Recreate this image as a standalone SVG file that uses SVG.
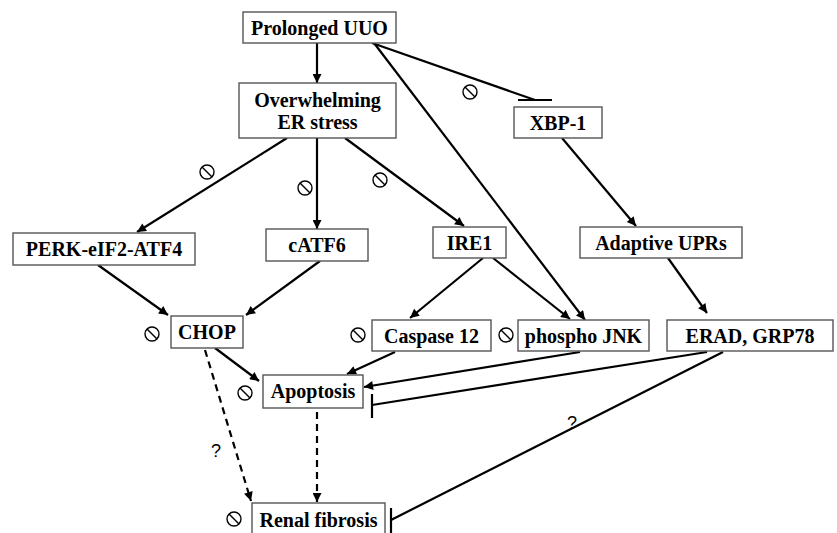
<svg xmlns="http://www.w3.org/2000/svg" width="837" height="533" viewBox="0 0 837 533">
<defs>
<marker id="ah" viewBox="0 0 10 10" refX="10" refY="5" markerWidth="11" markerHeight="9" markerUnits="userSpaceOnUse" orient="auto">
<path d="M0,0 L10,5 L0,10 z" fill="#000"/>
</marker>
<g id="no"><circle cx="0" cy="0" r="7" fill="none" stroke="#000" stroke-width="1.4"/><line x1="-5" y1="-5" x2="5" y2="5" stroke="#000" stroke-width="1.4"/></g>
</defs>
<style>
.box{fill:#fff;stroke:#555;stroke-width:1.4}
.t{font-family:"Liberation Serif","Times New Roman",serif;font-weight:bold;font-size:20px;fill:#000;text-anchor:middle}
.q{font-family:"Liberation Sans",Arial,sans-serif;font-size:18px;fill:#000;text-anchor:middle}
.c{stroke:#000;stroke-width:2.2;fill:none}
.a{marker-end:url(#ah)}
.d{stroke-dasharray:7,5}
</style>
<rect width="837" height="533" fill="#fff"/>
<g id="connectors">
<line class="c a" x1="317" y1="43" x2="317" y2="83"/>
<line class="c" x1="372" y1="43" x2="535" y2="100"/>
<line class="c" x1="518" y1="100" x2="552" y2="100" stroke-width="2.5"/>
<line class="c a" x1="374" y1="43" x2="585" y2="320"/>
<line class="c a" x1="287" y1="138" x2="137" y2="232"/>
<line class="c a" x1="317" y1="138" x2="317" y2="229"/>
<line class="c a" x1="345" y1="138" x2="464" y2="226"/>
<line class="c a" x1="562" y1="138" x2="636" y2="226"/>
<line class="c a" x1="668" y1="258" x2="707" y2="313"/>
<line class="c a" x1="98" y1="265" x2="168" y2="315"/>
<line class="c a" x1="320" y1="261" x2="246" y2="315"/>
<line class="c a" x1="483" y1="258" x2="410" y2="318"/>
<line class="c a" x1="493" y1="258" x2="570" y2="319"/>
<line class="c a" x1="215" y1="348" x2="259" y2="381"/>
<line class="c a" x1="395" y1="352" x2="347" y2="374"/>
<line class="c a" x1="580" y1="352" x2="364" y2="387"/>
<line class="c" x1="707" y1="352" x2="372" y2="405"/>
<line class="c" x1="372" y1="394" x2="372" y2="418"/>
<line class="c" x1="723" y1="352" x2="391" y2="520"/>
<line class="c" x1="391" y1="508" x2="391" y2="533"/>
<line class="c a d" x1="205" y1="350" x2="251" y2="501"/>
<line class="c a d" x1="317" y1="412" x2="317" y2="502"/>
</g>
<g id="n-uuo"><rect class="box" x="243" y="12" width="153" height="31"/><text class="t" x="319.5" y="35">Prolonged UUO</text></g>
<g id="n-er"><rect class="box" x="239" y="83" width="157" height="55"/><text class="t" x="317.5" y="107">Overwhelming</text><text class="t" x="317.5" y="129">ER stress</text></g>
<g id="n-xbp"><rect class="box" x="514" y="107" width="88" height="31"/><text class="t" x="558" y="130">XBP-1</text></g>
<g id="n-perk"><rect class="box" x="13" y="233" width="182" height="32"/><text class="t" x="104" y="256">PERK-eIF2-ATF4</text></g>
<g id="n-catf6"><rect class="box" x="266" y="229" width="102" height="32"/><text class="t" x="317" y="252">cATF6</text></g>
<g id="n-ire1"><rect class="box" x="433" y="227" width="73" height="31"/><text class="t" x="469.5" y="250">IRE1</text></g>
<g id="n-upr"><rect class="box" x="580" y="227" width="162" height="31"/><text class="t" x="661" y="250">Adaptive UPRs</text></g>
<g id="n-chop"><rect class="box" x="171" y="316" width="72" height="32"/><text class="t" x="207" y="339">CHOP</text></g>
<g id="n-casp"><rect class="box" x="372" y="320" width="119" height="31"/><text class="t" x="431.5" y="343">Caspase 12</text></g>
<g id="n-jnk"><rect class="box" x="518" y="320" width="131" height="31"/><text class="t" x="583.5" y="343">phospho JNK</text></g>
<g id="n-erad"><rect class="box" x="667" y="320" width="166" height="31"/><text class="t" x="750" y="343">ERAD, GRP78</text></g>
<g id="n-apo"><rect class="box" x="263" y="375" width="100" height="33"/><text class="t" x="313" y="398">Apoptosis</text></g>
<g id="n-renal"><rect class="box" x="252" y="503" width="133" height="40"/><text class="t" x="318.5" y="527">Renal fibrosis</text></g>
<g id="symbols">
<use href="#no" x="470" y="92"/>
<use href="#no" x="207" y="172"/>
<use href="#no" x="305" y="188"/>
<use href="#no" x="380" y="180"/>
<use href="#no" x="152" y="334"/>
<use href="#no" x="358" y="335"/>
<use href="#no" x="506" y="335"/>
<use href="#no" x="245" y="393"/>
<use href="#no" x="234" y="519"/>
</g>
<g id="labels">
<text class="q" x="216" y="457">?</text>
<text class="q" x="572" y="429">?</text>
</g>
</svg>
